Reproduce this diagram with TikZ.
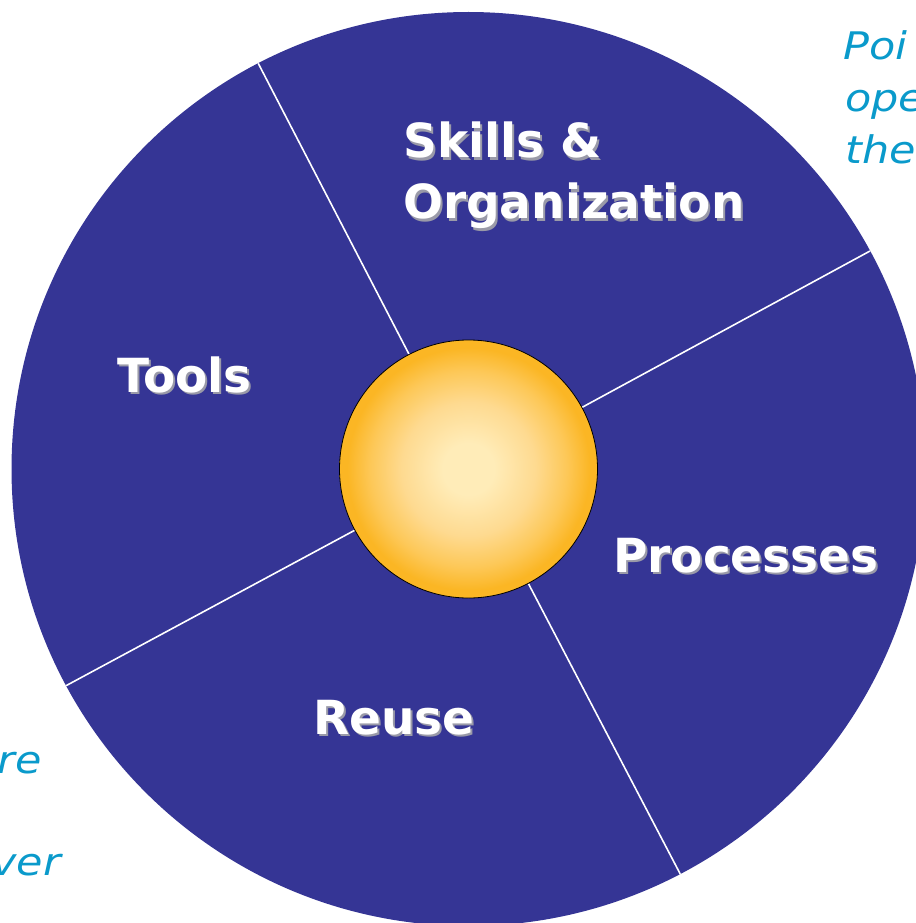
\documentclass[tikz,border=0pt]{standalone}
\usepackage{fontspec}
\usetikzlibrary{calc}
\newfontfamily\lblfont{DejaVu Sans}
\newfontfamily\notefont{DejaVu Sans}[FakeStretch=1.13]
\definecolor{wheelblue}{HTML}{353595}
\definecolor{linecol}{HTML}{FFFFFF}
\definecolor{ballin}{HTML}{FFECB8}
\definecolor{ballmid}{HTML}{FEDA90}
\definecolor{ballmid2}{HTML}{FDC858}
\definecolor{ballout}{HTML}{FBB624}
\definecolor{notecyan}{HTML}{0A9ACB}
\definecolor{shadowgray}{HTML}{9A9AA8}
\pgfdeclareradialshading{ballshade}{\pgfpoint{0bp}{0bp}}{color(0bp)=(ballin); color(5bp)=(ballin); color(13bp)=(ballmid); color(19bp)=(ballmid2); color(23.5bp)=(ballout); color(25bp)=(ballout); color(50bp)=(ballout)}
\begin{document}
\begin{tikzpicture}[x=1pt,y=-1pt,
  lbl/.style={inner sep=0pt, anchor=base west, text=white, font=\lblfont\bfseries\fontsize{47}{56}\selectfont},
  lblshadow/.style={lbl, text=shadowgray},
  note/.style={inner sep=0pt, text=notecyan, font=\notefont\itshape\fontsize{38}{46}\selectfont},
  divider/.style={draw=linecol, line width=1.6pt}]
\useasboundingbox (0,0) rectangle (915,923);
\coordinate (C) at (468.5,469);
% wheel
\fill[wheelblue] (C) circle[radius=457];
% dividers
\foreach \a/\n in {-28.5/d1,-117.4/d2,-208.3/d3,-297.6/d4}{
  \coordinate (\n i) at ($(C)+(\a:125)$);
  \coordinate (\n o) at ($(C)+(\a:457)$);
  \draw[divider] (\n i) -- (\n o);
}
% central ball
\node[circle, minimum size=258pt, inner sep=0pt, shading=ballshade, draw=black, line width=0.8pt] (ball) at (C) {};
% labels with shadows
\node[lblshadow] (skills s) at (405,160) {Skills \&};
\node[lbl] (skills) at (403,157.5) {Skills \&};
\node[lblshadow] (org s) at (405,221) {Organization};
\node[lbl] (org) at (403,218.5) {Organization};
\node[lblshadow] (tools s) at (119,394.5) {Tools};
\node[lbl] (tools) at (117,392) {Tools};
\node[lblshadow] (proc s) at (615,574.5) {Processes};
\node[lbl] (proc) at (613,572) {Processes};
\node[lblshadow] (reuse s) at (315,736.5) {Reuse};
\node[lbl] (reuse) at (313,734) {Reuse};
% cut-off notes
\node[note, anchor=base west] (n1) at (843,60) {Poi};
\node[note, anchor=base west] (n2) at (845,112) {ope};
\node[note, anchor=base west] (n3) at (845,163) {the};
\node[note, anchor=base east] (n4) at (42,773) {re};
\node[note, anchor=base east] (n5) at (61,875) {ver};
\end{tikzpicture}
\end{document}
